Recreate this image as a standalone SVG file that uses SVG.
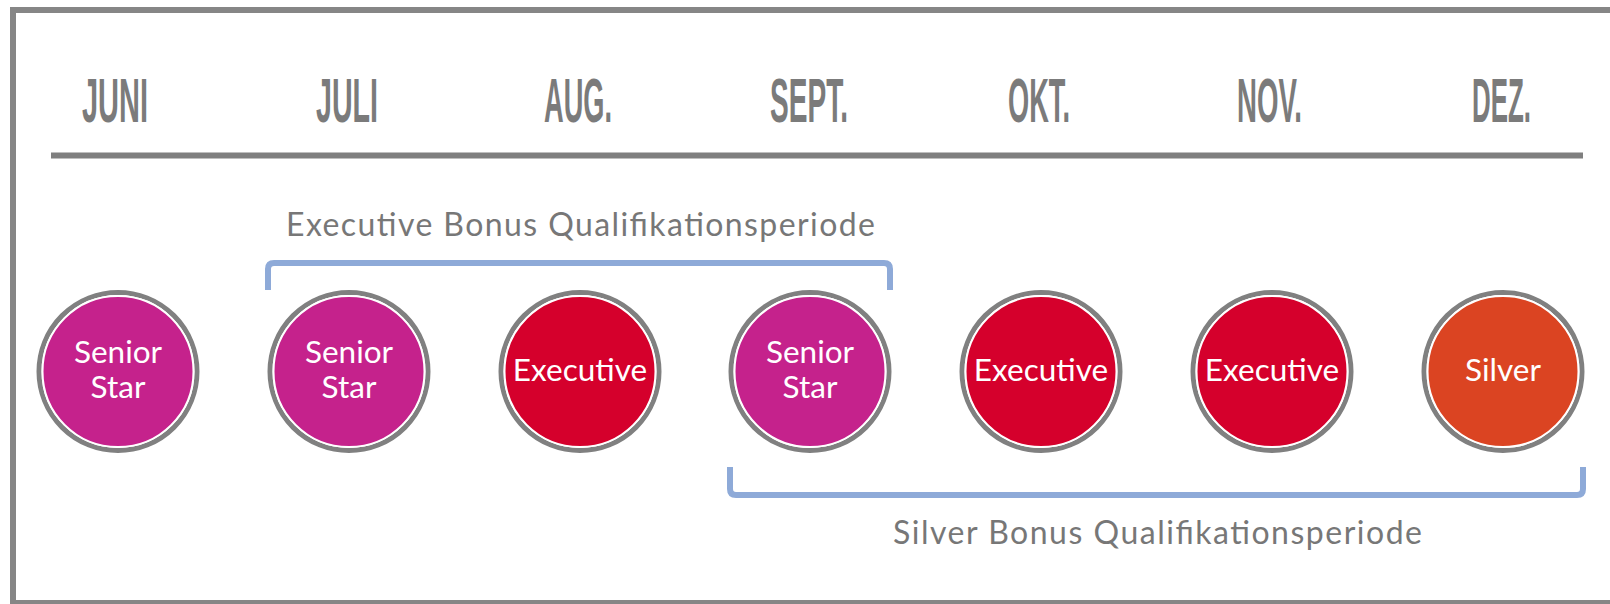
<svg xmlns="http://www.w3.org/2000/svg" width="1610" height="604" viewBox="0 0 1610 604">
<style>
.month{font-family:"Liberation Sans",Arial,sans-serif;font-weight:bold;font-size:63px;fill:#7b7b7b;}
.period{font-family:Lato,"Noto Sans",sans-serif;font-size:32px;fill:#777777;}
.lbl{font-family:Lato,"Noto Sans",sans-serif;font-size:31.5px;fill:#ffffff;text-anchor:middle;}
.ring{fill:none;stroke:#808080;stroke-width:5;}
.core{stroke:#ffffff;stroke-width:2;}
.ss{fill:#c5228c;}
.ex{fill:#d5002c;}
.sv{fill:#db4422;}
.br{fill:none;stroke:#8eaad8;stroke-width:6;stroke-linejoin:round;stroke-linecap:butt;}
</style>
<rect width="1610" height="604" fill="#ffffff"/>
<rect x="13" y="10" width="1610" height="593" fill="none" stroke="#868686" stroke-width="6"/>
<line x1="51" y1="155.5" x2="1583" y2="155.5" stroke="#7f7f7f" stroke-width="6"/>
<g id="months">
<text class="month" x="82" y="122" textLength="66" lengthAdjust="spacingAndGlyphs">JUNI</text>
<text class="month" x="316" y="122" textLength="62" lengthAdjust="spacingAndGlyphs">JULI</text>
<text class="month" x="544" y="122" textLength="68" lengthAdjust="spacingAndGlyphs">AUG.</text>
<text class="month" x="770" y="122" textLength="78" lengthAdjust="spacingAndGlyphs">SEPT.</text>
<text class="month" x="1008" y="122" textLength="62" lengthAdjust="spacingAndGlyphs">OKT.</text>
<text class="month" x="1237" y="122" textLength="65" lengthAdjust="spacingAndGlyphs">NOV.</text>
<text class="month" x="1472" y="122" textLength="59" lengthAdjust="spacingAndGlyphs">DEZ.</text>
</g>
<g id="connectors">
<path class="br" d="M268,290 V269 Q268,263 274,263 H884 Q890,263 890,269 V290"/>
<path class="br" d="M730,467 V489 Q730,495 736,495 H1577 Q1583,495 1583,489 V467"/>
</g>
<g id="labels">
<text class="period" x="286" y="236" textLength="589" lengthAdjust="spacing">Executive Bonus Qualifikationsperiode</text>
<text class="period" x="893" y="544" textLength="529" lengthAdjust="spacing">Silver Bonus Qualifikationsperiode</text>
</g>
<g id="n-juni">
<circle class="ring" cx="118" cy="371.5" r="79"/>
<circle class="core ss" cx="118" cy="371.5" r="75.5"/>
<text class="lbl" x="118" y="363">Senior</text>
<text class="lbl" x="118" y="398">Star</text>
</g>
<g id="n-juli">
<circle class="ring" cx="349" cy="371.5" r="79"/>
<circle class="core ss" cx="349" cy="371.5" r="75.5"/>
<text class="lbl" x="349" y="363">Senior</text>
<text class="lbl" x="349" y="398">Star</text>
</g>
<g id="n-aug">
<circle class="ring" cx="580" cy="371.5" r="79"/>
<circle class="core ex" cx="580" cy="371.5" r="75.5"/>
<text class="lbl" x="580" y="381">Executive</text>
</g>
<g id="n-sept">
<circle class="ring" cx="810" cy="371.5" r="79"/>
<circle class="core ss" cx="810" cy="371.5" r="75.5"/>
<text class="lbl" x="810" y="363">Senior</text>
<text class="lbl" x="810" y="398">Star</text>
</g>
<g id="n-okt">
<circle class="ring" cx="1041" cy="371.5" r="79"/>
<circle class="core ex" cx="1041" cy="371.5" r="75.5"/>
<text class="lbl" x="1041" y="381">Executive</text>
</g>
<g id="n-nov">
<circle class="ring" cx="1272" cy="371.5" r="79"/>
<circle class="core ex" cx="1272" cy="371.5" r="75.5"/>
<text class="lbl" x="1272" y="381">Executive</text>
</g>
<g id="n-dez">
<circle class="ring" cx="1503" cy="371.5" r="79"/>
<circle class="core sv" cx="1503" cy="371.5" r="75.5"/>
<text class="lbl" x="1503" y="381">Silver</text>
</g>
</svg>
